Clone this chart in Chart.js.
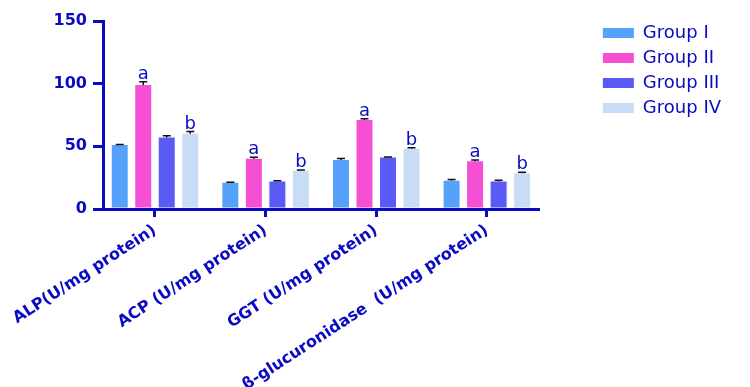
<!DOCTYPE html>
<html>
<head>
<meta charset="utf-8">
<script src="https://cdn.jsdelivr.net/npm/chart.js@4"></script>
<style>
  html, body { margin: 0; padding: 0; background: #fff; }
  #wrap { width: 750px; height: 387px; }
</style>
</head>
<body>
<div id="wrap"><canvas id="enzymeChart" width="750" height="387"></canvas></div>
<script>
// Datos
const categories = [
  "ALP(U/mg protein)",
  "ACP (U/mg protein)",
  "GGT (U/mg protein)",
  "β-glucuronidase  (U/mg protein)"
];
const groupNames = ["Group I", "Group II", "Group III", "Group IV"];

const groupI   = [51, 21, 39, 22.5];
const groupII  = [99, 40, 71, 38];
const groupIII = [57, 22, 41, 22];
const groupIV  = [60, 30.5, 48, 28.5];

// Error (SE) de cada barra
const errI   = [0.5, 0.4, 1.3, 1.0];
const errII  = [2.5, 1.2, 1.0, 1.1];
const errIII = [1.5, 0.6, 0.4, 0.9];
const errIV  = [1.8, 0.7, 0.8, 0.8];

// Letras de significancia por grupo
const sigLetters = ["", "a", "", "b"];

const yTicks = [0, 50, 100, 150];

const AXIS = "#0a0ac2";
const colors = ["#56a2fb", "#f550d5", "#5a5af6", "#c9dcf6"];

const seriesValues = [groupI, groupII, groupIII, groupIV];
const seriesErrors = [errI, errII, errIII, errIV];

// Barras de error + letras sobre cada barra
const errorBarsPlugin = {
  id: "errorBars",
  afterDatasetsDraw(chart) {
    const ctx = chart.ctx;
    const y = chart.scales.y;
    chart.data.datasets.forEach((ds, i) => {
      const meta = chart.getDatasetMeta(i);
      meta.data.forEach((bar, j) => {
        const v = ds.data[j].y;
        const top = y.getPixelForValue(v + ds.errorBars[j]);
        const base = y.getPixelForValue(v);
        ctx.save();
        ctx.strokeStyle = "#111";
        ctx.lineWidth = 1.5;
        ctx.beginPath();
        ctx.moveTo(bar.x, base);
        ctx.lineTo(bar.x, top);
        ctx.moveTo(bar.x - 4, top);
        ctx.lineTo(bar.x + 4, top);
        ctx.stroke();
        if (ds.sigLetter) {
          ctx.fillStyle = AXIS;
          ctx.font = "18px 'DejaVu Sans'";
          ctx.textAlign = "center";
          ctx.textBaseline = "alphabetic";
          ctx.fillText(ds.sigLetter, bar.x, top - 3);
        }
        ctx.restore();
      });
    });
  }
};

const ctx = document.getElementById("enzymeChart").getContext("2d");
new Chart(ctx, {
  type: "bar",
  data: {
    datasets: groupNames.map((name, i) => ({
      label: name,
      data: seriesValues[i].map((v, k) => ({ x: k, y: v })),
      errorBars: seriesErrors[i],
      sigLetter: sigLetters[i],
      backgroundColor: colors[i],
      borderWidth: 0,
      categoryPercentage: 0.85,
      barPercentage: 0.68
    }))
  },
  options: {
    responsive: false,
    animation: false,
    layout: { padding: { top: 17, right: 19, left: 0, bottom: 0 } },
    plugins: {
      tooltip: { enabled: false },
      legend: {
        position: "right",
        align: "start",
        labels: {
          boxWidth: 31,
          boxHeight: 10,
          padding: 7,
          color: AXIS,
          font: { family: "'DejaVu Sans'", size: 18 }
        }
      }
    },
    scales: {
      x: {
        type: "linear",
        min: -0.47,
        max: 3.47,
        offset: false,
        afterBuildTicks: s => { s.ticks = categories.map((c, k) => ({ value: k })); },
        grid: { display: true, offset: false, drawOnChartArea: false, tickLength: 8, color: AXIS, lineWidth: 3 },
        border: { color: AXIS, width: 3 },
        ticks: {
          autoSkip: false,
          minRotation: 33,
          maxRotation: 33,
          padding: 4,
          color: AXIS,
          font: { family: "'DejaVu Sans'", size: 16, weight: "bold" },
          callback: v => categories[v]
        },
        afterFit: s => { s.height = 178; s.paddingLeft = 0; s.paddingRight = 0; }
      },
      y: {
        min: 0,
        max: 150,
        afterBuildTicks: s => { s.ticks = yTicks.map(v => ({ value: v })); },
        grid: { display: true, drawOnChartArea: false, tickLength: 10, color: AXIS, lineWidth: 3 },
        border: { color: AXIS, width: 3 },
        ticks: {
          padding: 6,
          color: AXIS,
          font: { family: "'DejaVu Sans'", size: 16, weight: "bold" }
        },
        afterFit: s => { s.width = 103; s.paddingTop = 21; }
      },
      // espacio en blanco entre el eje x y la leyenda
      gap: {
        type: "linear",
        position: "right",
        display: false,
        afterFit: s => { s.width = 57; }
      }
    }
  },
  plugins: [errorBarsPlugin]
});
</script>
</body>
</html>
